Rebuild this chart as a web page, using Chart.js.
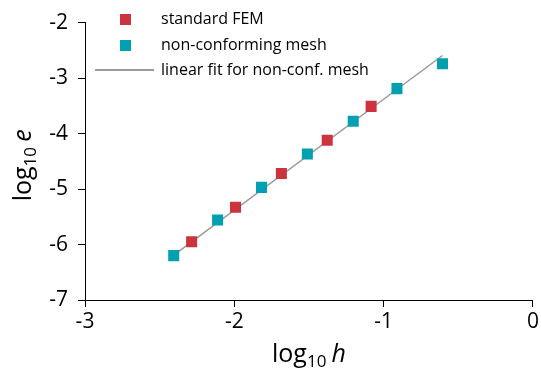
<!DOCTYPE html>
<html>
<head>
<meta charset="utf-8">
<script src="https://cdn.jsdelivr.net/npm/chart.js"></script>
<style>
    body { margin: 0; background: #fff; }
    #wrap { position: relative; width: 541px; height: 373px; }
    #legend { position: absolute; left: 0; top: 0; font-family: 'Open Sans', sans-serif; font-size: 16px; color: #000; }
    .item { position: absolute; white-space: nowrap; }
</style>
</head>
<body>
<div id="wrap">
    <canvas id="errChart" width="541" height="373"></canvas>
    <div id="legend"></div>
</div>
<script>
// log10 h / log10 e
const femX = [-2.286, -1.992, -1.685, -1.378, -1.084]
const femY = [-5.95, -5.33, -4.72, -4.12, -3.51]

const ncX = [-2.406, -2.112, -1.818, -1.511, -1.204, -0.911, -0.606]
const ncY = [-6.20, -5.56, -4.97, -4.37, -3.78, -3.19, -2.74]

// end points of the linear fit line
const fitX = [-2.41, -0.606]
const fitY = [-6.20, -2.593]

const xTicks = [-3, -2, -1, 0]
const yTicks = [-7, -6, -5, -4, -3, -2]

const labels = ['standard FEM', 'non-conforming mesh', 'linear fit for non-conf. mesh']

const red = '#CC333F'
const teal = '#00A0B0'
const gray = '#9a9a9a'
const font = "'Open Sans', sans-serif"

const toPts = (xs, ys) => xs.map((x, i) => ({ x: x, y: ys[i] }))

// axis titles with subscript and italic symbol
function drawLogLabel(ctx, cx, cy, sym) {
    ctx.font = '25px ' + font
    const w1 = ctx.measureText('log').width
    ctx.font = '17px ' + font
    const w2 = ctx.measureText('10').width
    ctx.font = '25px ' + font
    const w3 = ctx.measureText(' ').width * 0.8
    ctx.font = 'italic 25px ' + font
    const w4 = ctx.measureText(sym).width
    let x = cx - (w1 + w2 + w3 + w4) / 2

    ctx.fillStyle = '#000'
    ctx.textAlign = 'left'
    ctx.textBaseline = 'alphabetic'
    ctx.font = '25px ' + font
    ctx.fillText('log', x, cy)
    x += w1
    ctx.font = '17px ' + font
    ctx.fillText('10', x, cy + 5)
    x += w2 + w3
    ctx.font = 'italic 25px ' + font
    ctx.fillText(sym, x, cy)
}

const axisTitles = {
    id: 'axisTitles',
    afterDraw(chart) {
        const ctx = chart.ctx
        const area = chart.chartArea
        ctx.save()
        drawLogLabel(ctx, (area.left + area.right) / 2, 362, 'h')
        ctx.translate(31, (area.top + area.bottom) / 2 + 4)
        ctx.rotate(-Math.PI / 2)
        drawLogLabel(ctx, 0, 0, 'e')
        ctx.restore()
    }
}

const axisOpts = (min, max) => ({
    type: 'linear',
    min: min,
    max: max,
    border: { display: true, color: '#000', width: 1 },
    grid: { drawOnChartArea: false, drawTicks: true, tickLength: 7, tickColor: '#000', tickWidth: 1 },
    ticks: { stepSize: 1, color: '#000', font: { family: font, size: 21 } }
})

const xAxis = axisOpts(xTicks[0], xTicks[xTicks.length - 1])
xAxis.ticks.padding = 2
xAxis.afterFit = (s) => { s.height = 73 }

const yAxis = axisOpts(yTicks[0], yTicks[yTicks.length - 1])
yAxis.ticks.padding = 10
yAxis.afterFit = (s) => { s.width = 85 }

const chart = new Chart(document.getElementById('errChart'), {
    type: 'scatter',
    data: {
        datasets: [
            {
                label: labels[0],
                data: toPts(femX, femY),
                pointStyle: 'rect',
                pointRadius: 7.8,
                pointHoverRadius: 7.8,
                backgroundColor: red,
                borderWidth: 0
            },
            {
                label: labels[1],
                data: toPts(ncX, ncY),
                pointStyle: 'rect',
                pointRadius: 7.8,
                pointHoverRadius: 7.8,
                backgroundColor: teal,
                borderWidth: 0
            },
            {
                label: labels[2],
                data: toPts(fitX, fitY),
                showLine: true,
                borderColor: gray,
                borderWidth: 1.5,
                pointRadius: 0
            }
        ]
    },
    options: {
        responsive: false,
        animation: false,
        layout: { padding: { top: 19, right: 7, left: 0, bottom: 0 } },
        plugins: { legend: { display: false }, tooltip: { enabled: false } },
        scales: { x: xAxis, y: yAxis }
    },
    plugins: [axisTitles]
})

// legend built from the datasets
const legend = document.getElementById('legend')
const rows = [19, 45, 70]
chart.data.datasets.forEach((ds, i) => {
    const mark = document.createElement('div')
    mark.className = 'item'
    if (ds.showLine) {
        mark.style.left = '95px'
        mark.style.top = (rows[i] - 0.75) + 'px'
        mark.style.width = '59px'
        mark.style.height = '1.5px'
        mark.style.background = ds.borderColor
    } else {
        mark.style.left = '120px'
        mark.style.top = (rows[i] - 5.5) + 'px'
        mark.style.width = '11px'
        mark.style.height = '11px'
        mark.style.background = ds.backgroundColor
    }
    legend.appendChild(mark)

    const txt = document.createElement('div')
    txt.className = 'item'
    txt.style.left = '161px'
    txt.style.top = (rows[i] - 12) + 'px'
    txt.style.lineHeight = '22px'
    txt.innerText = ds.label
    legend.appendChild(txt)
})
</script>
</body>
</html>
